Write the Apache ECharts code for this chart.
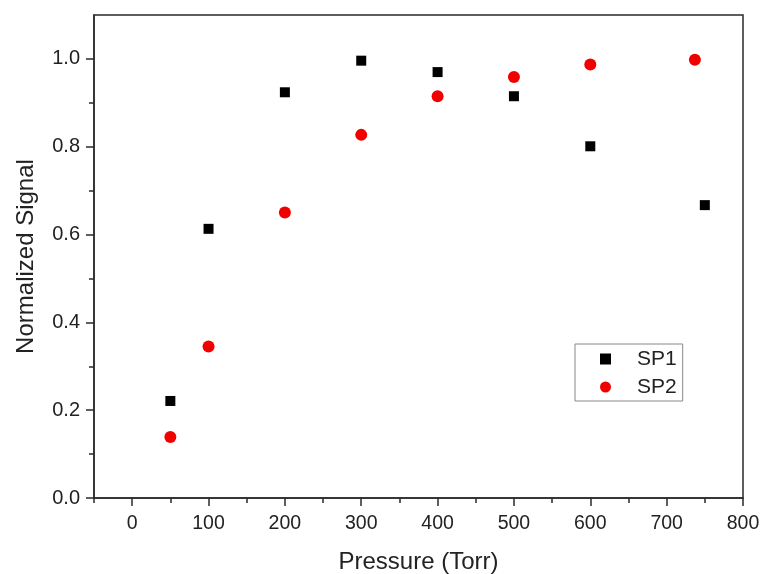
<!DOCTYPE html>
<html>
<head>
<meta charset="utf-8">
<script src="https://cdn.jsdelivr.net/npm/echarts@6/dist/echarts.min.js"></script>
<style>html,body{margin:0;padding:0;background:#fff}#c{width:763px;height:574px}</style>
</head>
<body>
<div id="c"></div>
<script>
const sp1Pressure = [50, 100, 200, 300, 400, 500, 600, 750];
const sp1Signal   = [0.221, 0.613, 0.924, 0.996, 0.970, 0.915, 0.801, 0.667];
const sp2Pressure = [50, 100, 200, 300, 400, 500, 600, 737];
const sp2Signal   = [0.139, 0.345, 0.650, 0.827, 0.915, 0.959, 0.987, 0.998];
const xMajorTicks = [0, 100, 200, 300, 400, 500, 600, 700, 800];
const xMinorTicks = [-50, 50, 150, 250, 350, 450, 550, 650, 750];
const yMajorTicks = [0, 0.2, 0.4, 0.6, 0.8, 1.0];
const yMinorTicks = [0.1, 0.3, 0.5, 0.7, 0.9];

const font = '"Liberation Sans", Arial, sans-serif';
const axisColor = '#2a2a2a';
const textColor = '#222';

const chart = echarts.init(document.getElementById('c'));
chart.setOption({
  animation: false,
  backgroundColor: '#fff',
  grid: { left: 94, right: 20, top: 15, bottom: 76, containLabel: false, outerBoundsMode: 'none',
    show: true, borderColor: axisColor, borderWidth: 1.5, backgroundColor: 'transparent' },
  xAxis: [
    {
      type: 'value', min: -50, max: 800,
      axisLine: { show: true, onZero: false, lineStyle: { color: axisColor, width: 1.5 } },
      axisTick: { show: true, customValues: xMajorTicks, length: 8, lineStyle: { color: axisColor, width: 1.5 } },
      axisLabel: { customValues: xMajorTicks, margin: 16, fontFamily: font, fontSize: 19.5, color: textColor },
      splitLine: { show: false },
      name: 'Pressure (Torr)', nameLocation: 'middle', nameGap: 52,
      nameTextStyle: { fontFamily: font, fontSize: 24, color: textColor }
    },
    {
      type: 'value', min: -50, max: 800, position: 'bottom',
      axisLine: { show: false, onZero: false },
      axisTick: { show: true, customValues: xMinorTicks, length: 5, lineStyle: { color: axisColor, width: 1.5 } },
      axisLabel: { show: false },
      splitLine: { show: false }
    }
  ],
  yAxis: [
    {
      type: 'value', min: 0, max: 1.1,
      axisLine: { show: true, onZero: false, lineStyle: { color: axisColor, width: 1.5 } },
      axisTick: { show: true, customValues: yMajorTicks, length: 8, lineStyle: { color: axisColor, width: 1.5 } },
      axisLabel: { customValues: yMajorTicks, margin: 14, fontFamily: font, fontSize: 20, color: textColor,
        formatter: v => v.toFixed(1) },
      splitLine: { show: false },
      name: 'Normalized Signal', nameLocation: 'middle', nameGap: 56,
      nameTextStyle: { fontFamily: font, fontSize: 24, color: textColor }
    },
    {
      type: 'value', min: 0, max: 1.1, position: 'left',
      axisLine: { show: false, onZero: false },
      axisTick: { show: true, customValues: yMinorTicks, length: 5, lineStyle: { color: axisColor, width: 1.5 } },
      axisLabel: { show: false },
      splitLine: { show: false }
    }
  ],
  legend: {
    orient: 'vertical', left: 575, top: 344,
    padding: [4, 6, 3, 25],
    borderColor: '#888', borderWidth: 1,
    itemWidth: 11, itemHeight: 11, itemGap: 6,
    textStyle: { fontFamily: font, fontSize: 21, color: textColor, lineHeight: 22, padding: [0, 0, 0, 21] },
    data: [
      { name: 'SP1', icon: 'rect', itemStyle: { color: '#000', opacity: 1 } },
      { name: 'SP2', icon: 'circle', itemStyle: { color: '#f20000', opacity: 1 } }
    ]
  },
  series: [
    {
      name: 'SP1', type: 'scatter', symbol: 'rect', symbolSize: 10,
      itemStyle: { color: '#000', opacity: 1 },
      data: sp1Pressure.map((p, i) => [p, sp1Signal[i]])
    },
    {
      name: 'SP2', type: 'scatter', symbol: 'circle', symbolSize: 12,
      itemStyle: { color: '#f20000', opacity: 1 },
      data: sp2Pressure.map((p, i) => [p, sp2Signal[i]])
    }
  ]
});
</script>
</body>
</html>
